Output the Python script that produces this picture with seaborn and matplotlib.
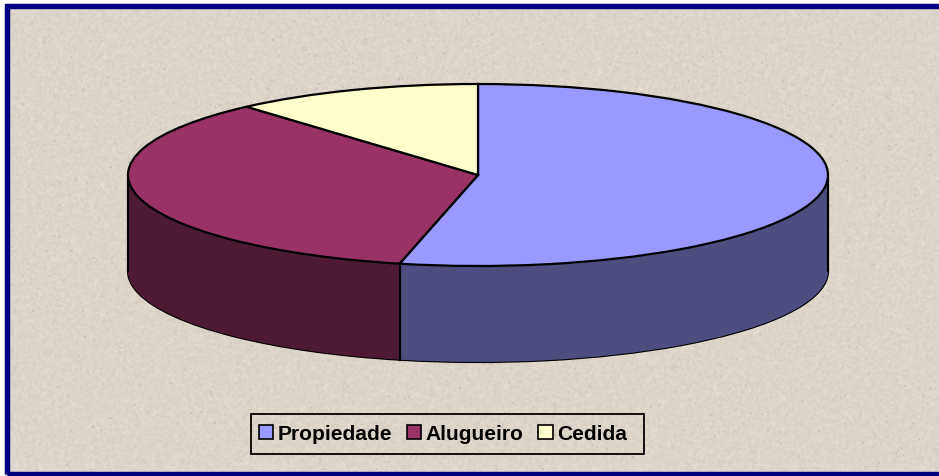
import numpy as np
import matplotlib
matplotlib.use("Agg")
import matplotlib.pyplot as plt
from matplotlib.patches import Rectangle
import seaborn as sns

# Data
labels = ["Propiedade", "Alugueiro", "Cedida"]
values = [53.6, 34.9, 11.5]
top_colors = ["#9999FF", "#993366", "#FFFFCC"]
side_colors = ["#4D4D80", "#4D1933", "#808066"]

W, H = 939, 476
CX, CY = 478, 175      # pixel centre of the top ellipse
RX, RY = 350, 91       # ellipse radii
DEPTH = 96             # height of the pie wall

sns.set_theme(style="white")
plt.rcParams["font.family"] = ["Liberation Sans", "DejaVu Sans"]

fig = plt.figure(figsize=(W / 100, H / 100), dpi=100, facecolor="white")

# Parchment texture behind the chart, just a pixel hash softened a bit
yy, xx = np.mgrid[0:H, 0:W]
grain = np.sin(xx * 12.9898 + yy * 78.233) * 43758.5453 % 1
soft = sum(np.roll(np.roll(grain, i, 0), j, 1) for i in (-1, 0, 1) for j in (-1, 0, 1)) / 9
specks = np.sin(xx * 39.346 + yy * 11.135) * 24634.6345 % 1 > 0.998
specks = sum(np.roll(np.roll(specks, i, 0), j, 1) for i in (0, 1) for j in (0, 1)) > 0
shade = 221 + 30 * (soft - 0.5) - 14 * specks
paper = np.clip(np.dstack([shade, shade - 8, shade - 20]) / 255, 0, 1)

bg = fig.add_axes([0, 0, 1, 1], zorder=-2)
bg.imshow(paper, aspect="auto", interpolation="nearest")
bg.axis("off")
bg.add_patch(Rectangle((-1, -1), W + 2, 5, facecolor="white", linewidth=0))
bg.add_patch(Rectangle((-1, -1), 5, H + 2, facecolor="white", linewidth=0))

# Navy frame (right side of the frame is cut off in the picture)
fig.add_artist(Rectangle((6.5 / W, 1 - 474 / H), 960 / W, 468 / H,
                         transform=fig.transFigure, facecolor="none",
                         edgecolor="#000080", linewidth=3.9, zorder=-1))

ax = fig.add_axes([0, 0, 1, 1])
ax.patch.set_alpha(0)

wall = DEPTH / RY

# Lowest layer carries the outline of the wall
ax.pie(values, colors=side_colors, startangle=90, counterclock=False,
       center=(0, -wall), wedgeprops=dict(edgecolor="black", linewidth=1.6))

# Stack of dark pies makes the wall
for d in np.arange(wall, 0, -1 / RY):
    ax.pie(values, colors=side_colors, startangle=90, counterclock=False,
           center=(0, -d), wedgeprops=dict(linewidth=0, edgecolor="none"))

# Vertical edges: both sides and the one slice border facing the viewer
theta = np.deg2rad(values[0] / sum(values) * 360)
for x, y in [(-1, 0), (1, 0), (np.sin(theta), np.cos(theta))]:
    ax.plot([x, x], [y, y - wall], color="black", linewidth=1.6, zorder=5)

# Top face
wedges, _ = ax.pie(values, colors=top_colors, startangle=90, counterclock=False,
                   wedgeprops=dict(edgecolor="black", linewidth=1.6, zorder=6))

# Pie squashed into an ellipse by giving x and y their own scale
ax.set_aspect("auto")
ax.set_xlim(-CX / RX, (W - CX) / RX)
ax.set_ylim((CY - H) / RY, CY / RY)
ax.axis("off")

# Legend box is wider on the right than the entries need, so it is drawn apart
fig.add_artist(Rectangle((250.5 / W, 1 - 454 / H), 393.5 / W, 40 / H,
                         transform=fig.transFigure, facecolor="none",
                         edgecolor="black", linewidth=1.3))
leg = ax.legend(wedges, labels, ncol=3, loc="center left",
                bbox_to_anchor=(259 / W, 1 - 434 / H),
                prop=dict(weight="bold", size=15.1), frameon=False,
                labelcolor="black",
                handlelength=0.68, handleheight=0.6, handletextpad=0.2,
                columnspacing=0.72, borderpad=0, borderaxespad=0)
for h in leg.legend_handles:
    h.set_edgecolor("black")
    h.set_linewidth(1.2)

fig.savefig("out.png", dpi=100)
